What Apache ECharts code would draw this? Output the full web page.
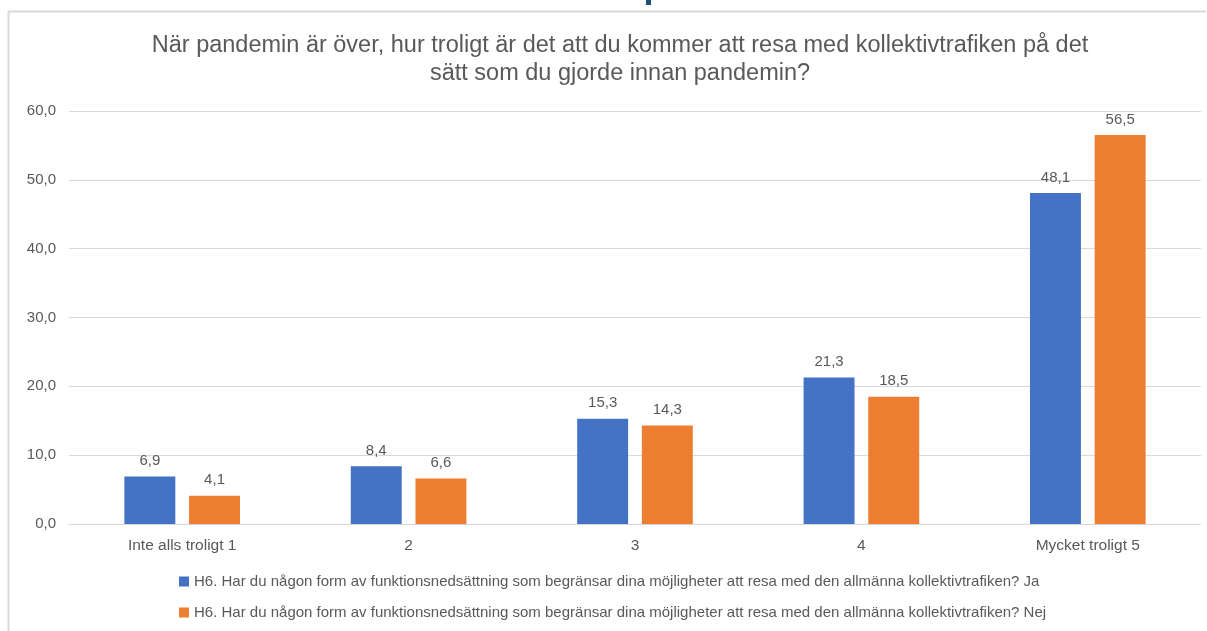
<!DOCTYPE html>
<html>
<head>
<meta charset="utf-8">
<script src="https://cdn.jsdelivr.net/npm/echarts@6/dist/echarts.min.js"></script>
<style>
html,body{margin:0;padding:0;background:#fff;}
#chart{width:1207px;height:631px;}
</style>
</head>
<body>
<div id="chart"></div>
<script>
const titleText = "När pandemin är över, hur troligt är det att du kommer att resa med kollektivtrafiken på det\nsätt som du gjorde innan pandemin?";
const categories = ["Inte alls troligt 1", "2", "3", "4", "Mycket troligt 5"];
const seriesNames = [
  "H6. Har du någon form av funktionsnedsättning som begränsar dina möjligheter att resa med den allmänna kollektivtrafiken? Ja",
  "H6. Har du någon form av funktionsnedsättning som begränsar dina möjligheter att resa med den allmänna kollektivtrafiken? Nej"
];
const valuesJa = [6.9, 8.4, 15.3, 21.3, 48.1];
const valuesNej = [4.1, 6.6, 14.3, 18.5, 56.5];

const FONT = '"Liberation Sans", Arial, sans-serif';
const TXT = '#595959';
const fmt = v => v.toFixed(1).replace('.', ',');

const chart = echarts.init(document.getElementById('chart'), null, {renderer: 'canvas'});
chart.setOption({
  backgroundColor: '#ffffff',
  animation: false,
  textStyle: {fontFamily: FONT},
  title: {
    text: titleText,
    left: 615,
    textAlign: 'center',
    top: 27,
    textStyle: {fontFamily: FONT, fontSize: 23.5, fontWeight: 'normal', color: TXT, lineHeight: 28}
  },
  graphic: [
    {type: 'line', shape: {x1: 8, y1: 11.5, x2: 1206, y2: 11.5}, style: {stroke: '#d9d9d9', lineWidth: 2}, silent: true},
    {type: 'line', shape: {x1: 8.5, y1: 11, x2: 8.5, y2: 631}, style: {stroke: '#d9d9d9', lineWidth: 2}, silent: true},
    {type: 'rect', shape: {x: 646, y: 0, width: 5, height: 5}, style: {fill: '#1f4e79'}, silent: true}
  ],
  legend: {
    orient: 'vertical',
    left: 174,
    top: 569,
    itemWidth: 10,
    itemHeight: 10,
    itemGap: 16,
    icon: 'rect',
    textStyle: {fontFamily: FONT, fontSize: 15, color: TXT}
  },
  grid: {left: 69, right: 6, top: 111, bottom: 107, containLabel: false},
  xAxis: {
    type: 'category',
    data: categories,
    axisLine: {lineStyle: {color: '#d9d9d9', width: 1}},
    axisTick: {show: false},
    axisLabel: {fontFamily: FONT, fontSize: 15.5, color: TXT, margin: 14}
  },
  yAxis: {
    type: 'value',
    min: 0,
    max: 60,
    interval: 10,
    axisLine: {show: false},
    axisTick: {show: false},
    splitLine: {lineStyle: {color: '#d9d9d9', width: 1}},
    axisLabel: {fontFamily: FONT, fontSize: 15, color: TXT, margin: 13, formatter: v => fmt(v)}
  },
  series: [
    {
      name: seriesNames[0],
      type: 'bar',
      data: valuesJa,
      barWidth: '22.5%',
      barGap: '27%',
      itemStyle: {color: '#4472c4'},
      label: {show: true, position: 'top', distance: 8, fontFamily: FONT, fontSize: 15, color: TXT, formatter: p => fmt(p.value)}
    },
    {
      name: seriesNames[1],
      type: 'bar',
      data: valuesNej,
      barWidth: '22.5%',
      itemStyle: {color: '#ed7d31'},
      label: {show: true, position: 'top', distance: 8, fontFamily: FONT, fontSize: 15, color: TXT, formatter: p => fmt(p.value)}
    }
  ]
});
</script>
</body>
</html>
